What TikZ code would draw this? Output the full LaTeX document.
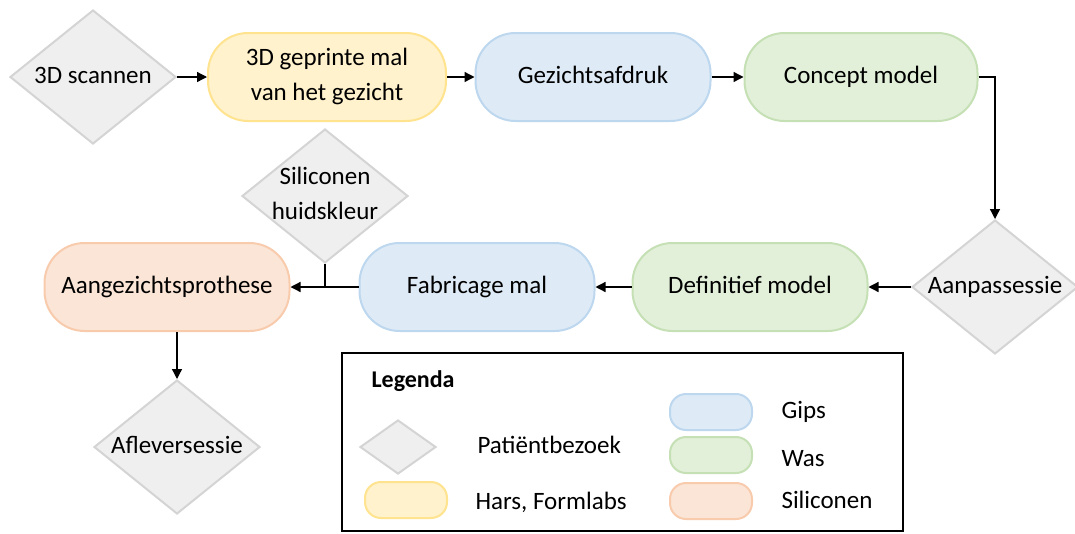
\documentclass[tikz,border=0pt]{standalone}
\usepackage{fontspec}
\setmainfont{Carlito}
\usetikzlibrary{shapes.geometric,arrows.meta}

\definecolor{visitfill}{HTML}{EFEFEF}
\definecolor{visitline}{HTML}{D4D4D4}
\definecolor{harsfill}{HTML}{FFF2CC}
\definecolor{harsline}{HTML}{FFE38F}
\definecolor{gipsfill}{HTML}{DEEBF7}
\definecolor{gipsline}{HTML}{BDD7EE}
\definecolor{wasfill}{HTML}{E2F0D9}
\definecolor{wasline}{HTML}{C5E0B4}
\definecolor{silfill}{HTML}{FBE5D6}
\definecolor{silline}{HTML}{F8CBAD}

\tikzset{
	oneline/.style={text height=17pt, text depth=5pt},
	twolines/.style={text height=52pt, text depth=5pt},
	visit/.style={diamond, draw=visitline, fill=visitfill, line width=2pt, shape aspect=1.25, inner sep=-6pt, minimum width=166pt, minimum height=134pt, align=center, oneline},
	pill/.style={rectangle, draw=#1line, fill=#1fill, line width=2pt, rounded corners=40pt, minimum width=235pt, minimum height=88pt, align=center, oneline},
	keypill/.style={pill=#1, rounded corners=16pt, minimum width=82pt, minimum height=36pt},
	flow/.style={line width=1.3pt, -{Triangle[length=10pt,width=10pt]}},
}

\begin{document}
\begin{tikzpicture}[x=1pt, y=-1pt, font=\fontsize{25}{35}\selectfont]
\pgfmathsetmacro{\rowa}{77}
\pgfmathsetmacro{\rowb}{287}
\useasboundingbox (0,0) rectangle (1075,533);

% bovenste rij
\node[visit] (scan) at (93,\rowa) {3D scannen};
\node[pill=hars, twolines, minimum width=238pt] (mal) at (327,\rowa) {3D geprinte mal\\van het gezicht};
\node[pill=gips] (afdruk) at (593,\rowa) {Gezichtsafdruk};
\node[pill=was, minimum width=233pt] (concept) at (861,\rowa) {Concept model};

% onderste rij
\node[visit] (aanpas) at (995,\rowb) {Aanpassessie};
\node[pill=was] (definitief) at (750,\rowb) {Definitief model};
\node[pill=gips] (fabricage) at (477,\rowb) {Fabricage mal};
\node[pill=sil, minimum width=245pt] (prothese) at (167,\rowb) {Aangezichtsprothese};
\node[visit, twolines] (huid) at (325,196) {Siliconen\\huidskleur};
\node[visit] (aflever) at (177,447) {Afleversessie};

\draw[flow] (scan) -- (mal);
\draw[flow] (mal) -- (afdruk);
\draw[flow] (afdruk) -- (concept);
\draw[flow] (concept.east) -| (aanpas.north);
\draw[flow] (aanpas) -- (definitief);
\draw[flow] (definitief) -- (fabricage);
\draw[flow] (fabricage) -- (prothese);
\draw[line width=1.3pt] (huid.south) -- (huid.south |- fabricage.west);
\draw[flow] (prothese.south -| aflever.north) -- (aflever.north);

% legenda
\draw[line width=2.5pt] (342,353) rectangle (903,531);
\node[anchor=west, oneline, font=\fontsize{24}{28}\selectfont\bfseries] (legenda) at (368,381) {Legenda};
\node[visit, minimum width=76pt, minimum height=54pt] (keyvisit) at (398,447) {};
\node[anchor=west, oneline] (labelvisit) at (474,447) {Patiëntbezoek};
\node[keypill=hars] (keyhars) at (406,500) {};
\node[anchor=west, oneline] (labelhars) at (472,503) {Hars, Formlabs};
\foreach \m/\t/\y/\ty in {gips/Gips/412/412, was/Was/455/460, sil/Siliconen/501/502}{
	\node[keypill=\m] (key\m) at (711,\y) {};
	\node[anchor=west, oneline] (label\m) at (778,\ty) {\t};
}

\end{tikzpicture}
\end{document}
